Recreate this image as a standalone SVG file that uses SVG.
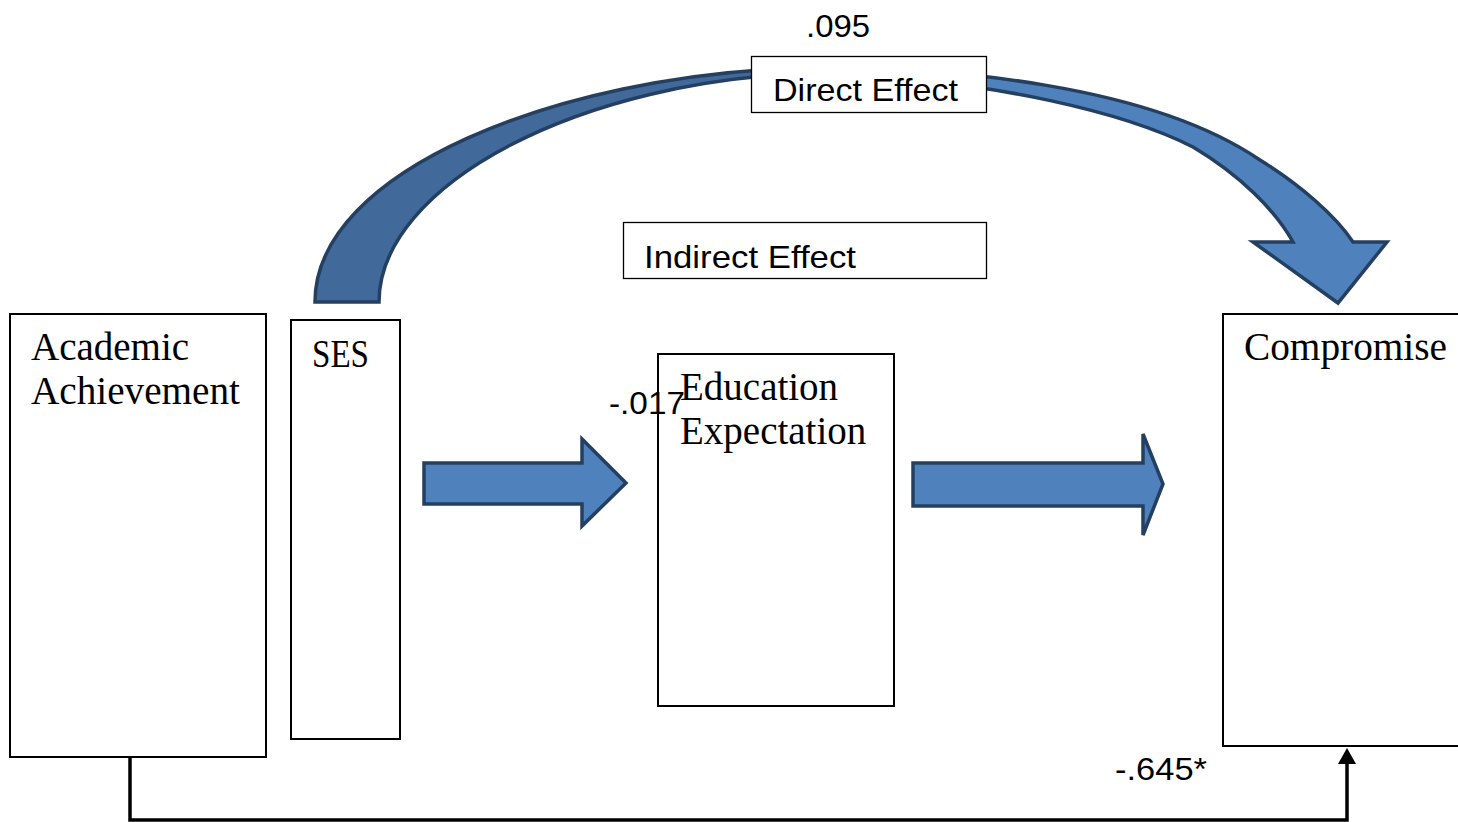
<svg xmlns="http://www.w3.org/2000/svg" width="1458" height="822" viewBox="0 0 1458 822">
<style>
.box{fill:#fff;stroke:#000;stroke-width:2}
.lbl{fill:#fff;stroke:#000;stroke-width:1.3}
.serif{font-family:"Liberation Serif","Times New Roman",serif;font-size:39px;fill:#000}
.sans{font-family:"Liberation Sans",Arial,sans-serif;font-size:32px;fill:#000}
.blk{fill:#4f81bd;stroke:#243f60;stroke-width:3.5;stroke-linejoin:miter}
.conn{fill:none;stroke:#000;stroke-width:3.5}
</style>
<defs>
<linearGradient id="curveFill" gradientUnits="userSpaceOnUse" x1="760" y1="0" x2="980" y2="0">
<stop offset="0" stop-color="#416a9b"/>
<stop offset="0.5" stop-color="#416a9b"/>
<stop offset="0.5" stop-color="#4f81bd"/>
<stop offset="1" stop-color="#4f81bd"/>
</linearGradient>
<marker id="arrowUp" markerWidth="20" markerHeight="20" viewBox="0 0 20 20" refX="0" refY="10" orient="auto" markerUnits="userSpaceOnUse">
<path d="M0,1 L16,10 L0,19 Z" fill="#000"/>
</marker>
</defs>
<rect width="1458" height="822" fill="#fff"/>
<g id="connectors">
<path id="curved-arrow" d="M315,302 C315,170 560,75 800,68 C950,66 1150,85 1260,160 C1300,185 1335,215 1353,242 L1387,242 L1338,303 L1253,242 L1293,242 C1275,210 1240,175 1193,147 C1130,115 1000,80 820,73 C580,78 379,185 379,302 Z" fill="url(#curveFill)" stroke="#243f60" stroke-width="3.5" stroke-linejoin="miter"/>
<path id="arrow-ses-edu" class="blk" d="M424,463 L582,463 L582,439 L626,483 L582,526 L582,504 L424,504 Z"/>
<path id="arrow-edu-comp" class="blk" d="M913,463 L1143,463 L1143,434 L1163,484 L1143,535 L1143,506 L913,506 Z"/>
<path id="conn-bottom" class="conn" d="M130,757 L130,820 L1347,820 L1347,764" marker-end="url(#arrowUp)"/>
<text class="sans" x="1115" y="780" textLength="92" lengthAdjust="spacingAndGlyphs">-.645*</text>
</g>
<g id="direct-effect">
<text class="sans" x="806" y="37" textLength="64" lengthAdjust="spacingAndGlyphs">.095</text>
<rect class="lbl" x="751.5" y="56.5" width="235" height="56"/>
<text class="sans" x="773" y="101" textLength="185" lengthAdjust="spacingAndGlyphs">Direct Effect</text>
</g>
<g id="indirect-effect">
<rect class="lbl" x="623.5" y="222.5" width="363" height="56"/>
<text class="sans" x="644" y="268" textLength="212" lengthAdjust="spacingAndGlyphs">Indirect Effect</text>
</g>
<g id="academic-achievement">
<rect class="box" x="10" y="314" width="256" height="443"/>
<text class="serif" x="31" y="360">Academic</text>
<text class="serif" x="31" y="404" textLength="209" lengthAdjust="spacingAndGlyphs">Achievement</text>
</g>
<g id="ses">
<rect class="box" x="291" y="320" width="109" height="419"/>
<text class="serif" x="312" y="367" textLength="57" lengthAdjust="spacingAndGlyphs">SES</text>
</g>
<g id="education-expectation">
<rect class="box" x="658" y="354" width="236" height="352"/>
<text class="serif" x="680" y="400">Education</text>
<text class="serif" x="680" y="444">Expectation</text>
<text class="sans" x="609" y="414" textLength="76" lengthAdjust="spacingAndGlyphs">-.017</text>
</g>
<g id="compromise">
<rect class="box" x="1223" y="314" width="260" height="432"/>
<text class="serif" x="1244" y="360" textLength="203" lengthAdjust="spacingAndGlyphs">Compromise</text>
</g>
</svg>
